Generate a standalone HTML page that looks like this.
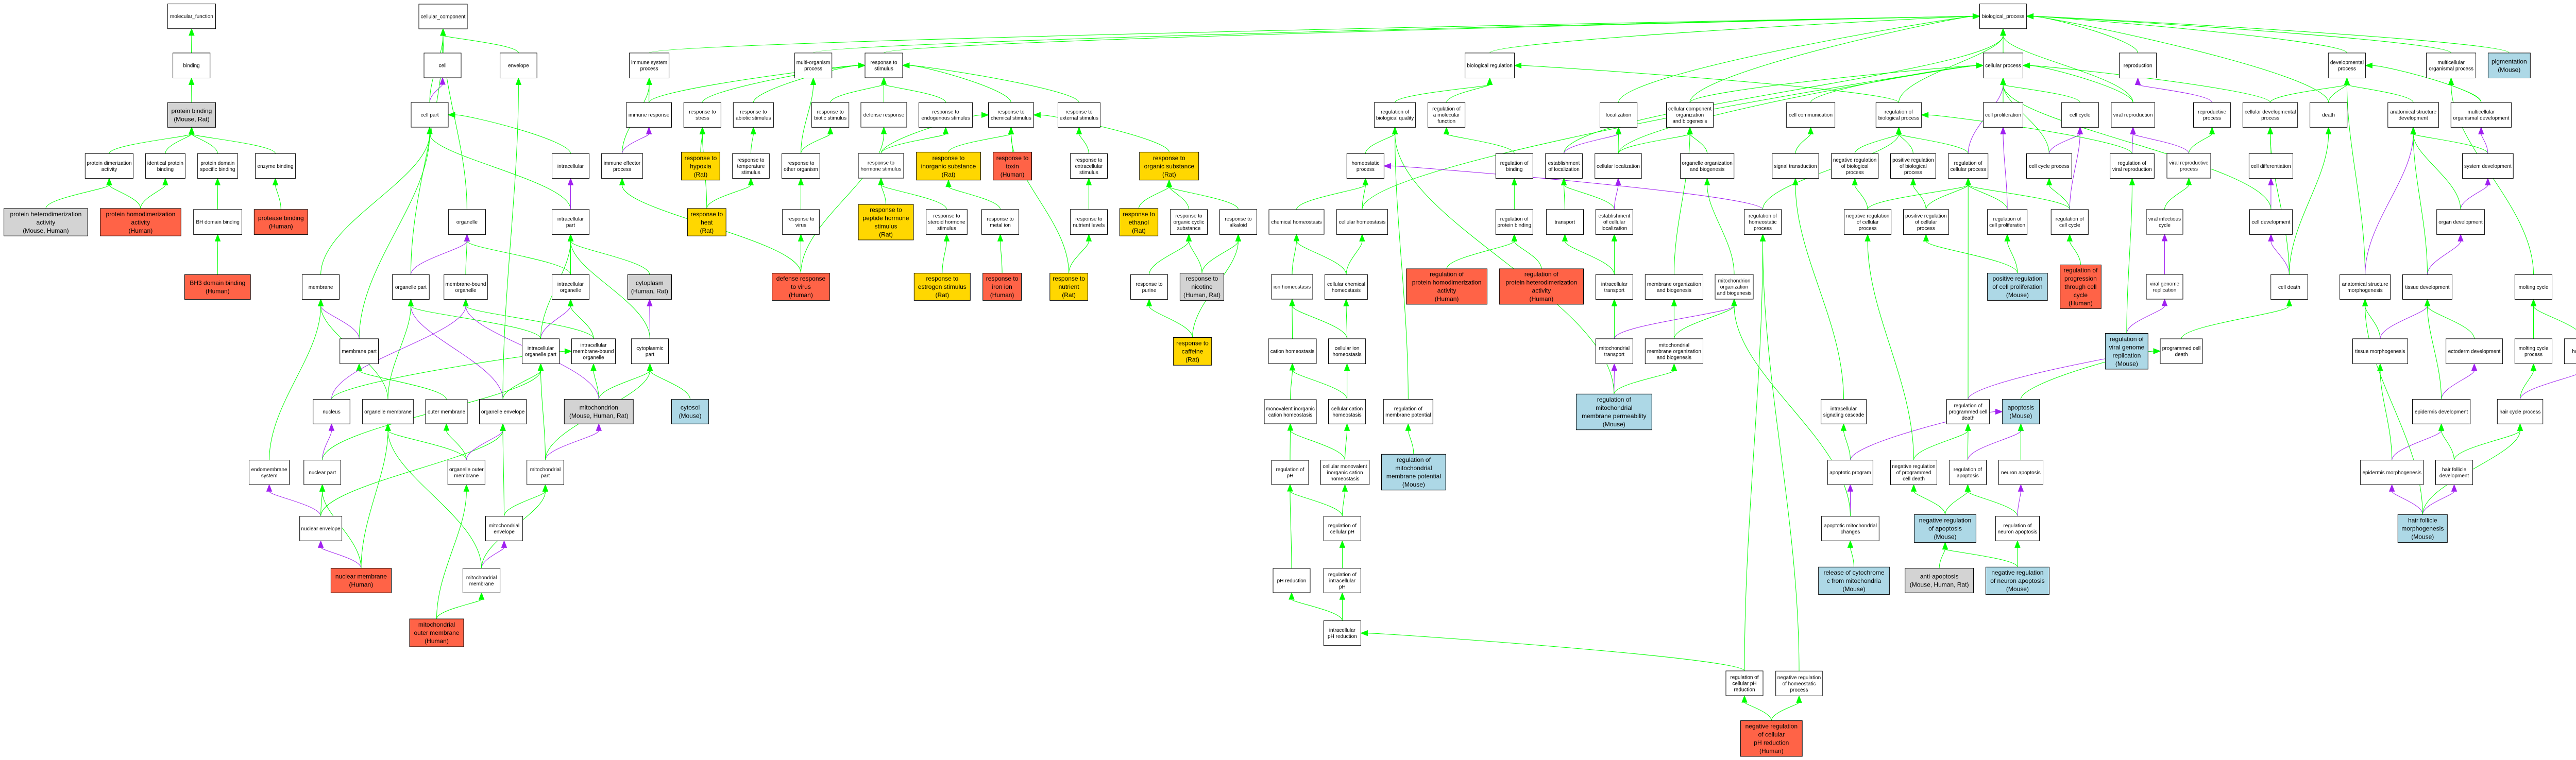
<!DOCTYPE html>
<html><head><meta charset="utf-8">
<style>
html,body{margin:0;padding:0;background:#fff;}
svg{display:block;}
text{font-family:"Liberation Sans",Arial,sans-serif;fill:#000;}
</style></head>
<body>
<svg id="g" xmlns="http://www.w3.org/2000/svg" width="5056" height="1476" viewBox="0 0 5056 1476">
<rect width="5056" height="1476" fill="#fff"/>
<g id="E"></g><g id="N"></g>
</svg>
<script>
const SX=1.8447,SY=2.1189;
const R='#FF6347',G='#FFD700',Y='#D3D3D3',B='#ADD8E6',W='#FFFFFF';
const nodes={};
function Z(id,ox,oy,x1,y1,x2,y2,lab,f){nodes[id]={x:ox+x1/SX,y:oy+y1/SY,w:(x2-x1)/SX,h:(y2-y1)/SY,lab:lab,f:f||W};}
function D(id,x1,y1,x2,y2,lab,f){nodes[id]={x:x1,y:y1,w:x2-x1,h:y2-y1,lab:lab,f:f||W};}
// zoom1 (0,0)
Z('mf',0,0,600,16,772,118,'molecular_function');
Z('bind',0,0,619,218,752,321,'binding');
Z('pb',0,0,600,422,772,524,'protein binding|(Mouse, Rat)',Y);
Z('pda',0,0,305,632,477,734,'protein dimerization|activity');
Z('ipb',0,0,521,632,663,734,'identical protein|binding');
Z('pdsb',0,0,707,632,851,734,'protein domain|specific binding');
Z('eb',0,0,914,632,1058,734,'enzyme binding');
Z('phda',0,0,14,858,314,971,'protein heterodimerization|activity|(Mouse, Human)',Y);
Z('phomo',0,0,359,858,648,971,'protein homodimerization|activity|(Human)',R);
Z('bhdb',0,0,693,862,866,965,'BH domain binding');
Z('protb',0,0,910,862,1102,965,'protease binding|(Human)',R);
Z('bh3',0,0,661,1130,897,1232,'BH3 domain binding|(Human)',R);
Z('memb',0,0,1082,1130,1215,1232,'membrane');
Z('membp',0,0,1217,1394,1355,1497,'membrane part');
Z('orgp',0,0,1405,1130,1537,1232,'organelle part');
D('cellp',798,199,870,247,'cell part');
D('cc',813,8,907,56,'cellular_component');
D('cell',823,103,895,151,'cell');
// zoom2
Z('nuc',0,736,1121,84,1253,185,'nucleus');
Z('orgm',0,736,1298,84,1480,185,'organelle membrane');
D('outm',826,776,907,823,'outer membrane');
Z('endo',0,736,892,334,1036,435,'endomembrane|system');
Z('nucp',0,736,1088,334,1220,435,'nuclear part');
Z('nenv',0,736,1073,565,1224,666,'nuclear envelope');
Z('nmem',0,736,1185,779,1401,880,'nuclear membrane|(Human)',R);
D('momem',795,1202,900,1256,'mitochondrial|outer membrane|(Human)',R);
// zoom3
const o3=840;
Z('env',o3,0,241,218,373,321,'envelope');
Z('isp',o3,0,704,218,846,321,'immune system|process');
Z('mop',o3,0,1296,218,1429,321,'multi-organism|process');
D('rstim',1679,103,1752,151,'response to|stimulus');
Z('ir',o3,0,693,422,855,524,'immune response');
Z('rstress',o3,0,899,422,1032,524,'response to|stress');
Z('rabio',o3,0,1076,422,1220,524,'response to|abiotic stimulus');
Z('rbio',o3,0,1357,422,1490,524,'response to|biotic stimulus');
D('defr',1671,199,1760,247,'defense response');
Z('intra',o3,0,427,632,560,734,'intracellular');
Z('iep',o3,0,604,632,752,734,'immune effector|process');
Z('rhyp',o3,0,890,626,1028,741,'response to|hypoxia|(Rat)',G);
Z('rtemp',o3,0,1073,632,1205,734,'response to|temperature|stimulus');
Z('roth',o3,0,1250,632,1386,734,'response to|other organism');
D('rhorm',1666,298,1754,346,'response to|hormone stimulus');
Z('org',o3,0,56,862,189,965,'organelle');
Z('intp',o3,0,427,862,560,965,'intracellular|part');
Z('rheat',o3,0,912,858,1050,971,'response to|heat|(Rat)',G);
Z('rvir',o3,0,1252,862,1384,965,'response to|virus');
D('rpep',1666,397,1773,466,'response to|peptide hormone|stimulus|(Rat)',G);
Z('mbo',o3,0,40,1130,196,1232,'membrane-bound|organelle');
Z('io',o3,0,427,1130,560,1232,'intracellular|organelle');
Z('cyto',o3,0,698,1130,855,1232,'cytoplasm|(Human, Rat)',Y);
Z('drv',o3,0,1215,1124,1421,1236,'defense response|to virus|(Human)',R);
Z('iop',o3,0,320,1394,453,1497,'intracellular|organelle part');
Z('imbo',o3,0,497,1394,654,1497,'intracellular|membrane-bound|organelle');
Z('cytp',o3,0,711,1394,844,1497,'cytoplasmic|part');
// zoom4
Z('orgenv',o3,736,167,84,335,185,'organelle envelope');
Z('mito',o3,736,471,84,718,185,'mitochondrion|(Mouse, Human, Rat)',Y);
Z('cytosol',o3,736,855,84,988,185,'cytosol|(Mouse)',B);
Z('oom',o3,736,54,334,187,435,'organelle outer|membrane');
Z('mitp',o3,736,337,334,469,435,'mitochondrial|part');
Z('menv',o3,736,189,565,322,666,'mitochondrial|envelope');
Z('mmem',o3,736,108,779,241,880,'mitochondrial|membrane');
// zoom5
const o5=1680;
Z('rendo',o5,0,191,422,383,524,'response to|endogenous stimulus');
Z('rchem',o5,0,440,422,602,524,'response to|chemical stimulus');
Z('rext',o5,0,689,422,840,524,'response to|external stimulus');
Z('rinorg',o5,0,182,626,412,741,'response to|inorganic substance|(Rat)',G);
Z('rtox',o5,0,457,626,595,741,'response to|toxin|(Human)',R);
Z('rextra',o5,0,733,632,866,734,'response to|extracellular|stimulus');
Z('rorg',o5,0,981,626,1193,741,'response to|organic substance|(Rat)',G);
Z('rster',o5,0,217,862,364,965,'response to|steroid hormone|stimulus');
Z('rmetal',o5,0,416,862,549,965,'response to|metal ion');
Z('rnutl',o5,0,733,862,866,965,'response to|nutrient levels');
Z('reth',o5,0,910,858,1047,971,'response to|ethanol|(Rat)',G);
Z('rocs',o5,0,1091,862,1224,965,'response to|organic cyclic|substance');
Z('ralk',o5,0,1268,862,1401,965,'response to|alkaloid');
D('chemh',2463,407,2570,455,'chemical homeostasis');
Z('restr',o5,0,174,1124,375,1236,'response to|estrogen stimulus|(Rat)',G);
Z('riron',o5,0,420,1124,558,1236,'response to|iron ion|(Human)',R);
Z('rnut',o5,0,660,1124,796,1236,'response to|nutrient|(Rat)',G);
Z('rpur',o5,0,949,1130,1082,1232,'response to|purine');
Z('rnic',o5,0,1126,1124,1283,1236,'response to|nicotine|(Human, Rat)',Y);
D('ionh',2468,533,2548,581,'ion homeostasis');
Z('rcaf',o5,0,1102,1389,1239,1503,'response to|caffeine|(Rat)',G);
D('cath',2462,658,2555,706,'cation homeostasis');
D('monoh',2454,776,2555,823,'monovalent inorganic|cation homeostasis');
D('regph',2468,894,2540,941,'regulation of|pH');
D('phred',2471,1104,2543,1151,'pH reduction');
// zoom7
const o7=2520;
Z('breg',o7,0,597,218,774,321,'biological regulation');
Z('rbq',o7,0,272,422,420,524,'regulation of|biological quality');
Z('rmf',o7,0,464,422,597,524,'regulation of|a molecular|function');
Z('loc',o7,0,1080,422,1213,524,'localization');
Z('ccob',o7,0,1318,422,1486,524,'cellular component|organization|and biogenesis');
Z('hp',o7,0,174,632,307,734,'homeostatic|process');
Z('rb',o7,0,707,632,840,734,'regulation of|binding');
Z('eloc',o7,0,885,632,1017,734,'establishment|of localization');
Z('cloc',o7,0,1062,632,1229,734,'cellular localization');
Z('oob',o7,0,1368,632,1560,734,'organelle organization|and biogenesis');
Z('ch',o7,0,137,862,320,965,'cellular homeostasis');
Z('rpb',o7,0,707,862,840,965,'regulation of|protein binding');
Z('trans',o7,0,888,862,1021,965,'transport');
Z('ecl',o7,0,1065,862,1198,965,'establishment|of cellular|localization');
Z('cch',o7,0,95,1130,248,1232,'cellular chemical|homeostasis');
Z('rphomo',o7,0,387,1106,676,1252,'regulation of|protein homodimerization|activity|(Human)',R);
Z('rphet',o7,0,720,1106,1021,1252,'regulation of|protein heterodimerization|activity|(Human)',R);
Z('itr',o7,0,1065,1130,1198,1232,'intracellular|transport');
Z('mob',o7,0,1242,1130,1449,1232,'membrane organization|and biogenesis');
D('mitoob',3329,533,3403,581,'mitochondrion|organization|and biogenesis');
Z('cih',o7,0,108,1394,241,1497,'cellular ion|homeostasis');
Z('mtr',o7,0,1065,1394,1198,1497,'mitochondrial|transport');
Z('mmob',o7,0,1242,1394,1449,1497,'mitochondrial|membrane organization|and biogenesis');
// zoom8
Z('ccath',o7,736,108,84,241,185,'cellular cation|homeostasis');
Z('rmp',o7,736,305,84,482,185,'regulation of|membrane potential');
Z('rmmp',o7,736,995,62,1266,209,'regulation of|mitochondrial|membrane permeability|(Mouse)',B);
Z('cmono',o7,736,80,334,254,435,'cellular monovalent|inorganic cation|homeostasis');
Z('rmmpot',o7,736,298,310,528,457,'regulation of|mitochondrial|membrane potential|(Mouse)',B);
Z('rcph',o7,736,91,565,224,666,'regulation of|cellular pH');
Z('riph',o7,736,91,779,224,880,'regulation of|intracellular|pH');
Z('iphr',o7,736,91,995,224,1097,'intracellular|pH reduction');
D('rcphr',3350,1303,3422,1351,'regulation of|cellular pH|reduction');
// zoom9
const o9=3360;
Z('bp',o9,0,890,16,1058,118,'biological_process');
Z('cp',o9,0,903,218,1045,321,'cellular process');
Z('repro',o9,0,1390,218,1523,321,'reproduction');
Z('ccom',o9,0,198,422,372,524,'cell communication');
Z('rbp',o9,0,519,422,682,524,'regulation of|biological process');
Z('cprol',o9,0,903,422,1045,524,'cell proliferation');
Z('ccyc',o9,0,1183,422,1316,524,'cell cycle');
Z('vrep',o9,0,1361,422,1517,524,'viral reproduction');
Z('st',o9,0,147,632,314,734,'signal transduction');
Z('nrbp',o9,0,359,632,527,734,'negative regulation|of biological|process');
Z('prbp',o9,0,571,632,733,734,'positive regulation|of biological|process');
Z('rcp',o9,0,778,632,920,734,'regulation of|cellular process');
Z('ccp',o9,0,1058,632,1220,734,'cell cycle process');
Z('rvr',o9,0,1357,632,1515,734,'regulation of|viral reproduction');
D('vrp',4206,298,4291,346,'viral reproductive|process');
Z('rhp',o9,0,47,862,180,965,'regulation of|homeostatic|process');
Z('nrcp',o9,0,405,862,573,965,'negative regulation|of cellular|process');
Z('prcp',o9,0,617,862,779,965,'positive regulation|of cellular|process');
Z('rcpr',o9,0,918,862,1060,965,'regulation of|cell proliferation');
Z('rcc',o9,0,1146,862,1279,965,'regulation of|cell cycle');
D('vic',4166,407,4237,455,'viral infectious|cycle');
Z('prcpr',o9,0,918,1124,1133,1236,'positive regulation|of cell proliferation|(Mouse)',B);
Z('rpcc',o9,0,1178,1090,1325,1270,'regulation of|progression|through cell|cycle|(Human)',R);
D('vgr',4166,533,4237,581,'viral genome|replication');
Z('rvgr',o9,0,1340,1372,1493,1519,'regulation of|viral genome|replication|(Mouse)',B);
D('pcd',4193,658,4275,706,'programmed cell|death');
// zoom10
Z('isc',o9,736,322,84,484,185,'intracellular|signaling cascade');
Z('rpcd',o9,736,772,84,925,185,'regulation of|programmed cell|death');
Z('apop',o9,736,971,84,1104,185,'apoptosis|(Mouse)',B);
Z('aprog',o9,736,346,334,508,435,'apoptotic program');
Z('nrpcd',o9,736,571,334,737,435,'negative regulation|of programmed|cell death');
Z('rapop',o9,736,781,334,914,435,'regulation of|apoptosis');
Z('napop',o9,736,958,334,1117,435,'neuron apoptosis');
Z('amc',o9,736,324,565,530,666,'apoptotic mitochondrial|changes');
Z('nrapop',o9,736,656,558,877,673,'negative regulation|of apoptosis|(Mouse)',B);
Z('rnapop',o9,736,947,565,1104,666,'regulation of|neuron apoptosis');
Z('rcyt',o9,736,313,774,567,887,'release of cytochrome|c from mitochondria|(Mouse)',B);
Z('anti',o9,736,623,779,868,880,'anti-apoptosis|(Mouse, Human, Rat)',Y);
Z('nrnapop',o9,736,912,774,1139,887,'negative regulation|of neuron apoptosis|(Mouse)',B);
Z('nrhp',o9,736,160,1202,327,1304,'negative regulation|of homeostatic|process');
Z('nrcphr',o9,736,34,1406,255,1553,'negative regulation|of cellular|pH reduction|(Human)',R);
// zoom11
const o11=4206;
Z('devp',o11,0,578,218,711,321,'developmental|process');
Z('mcop',o11,0,929,218,1106,321,'multicellular|organismal process');
Z('pig',o11,0,1150,218,1301,321,'pigmentation|(Mouse)',B);
Z('rp',o11,0,95,422,228,524,'reproductive|process');
Z('cdp',o11,0,272,422,468,524,'cellular developmental|process');
Z('death',o11,0,512,422,645,524,'death');
Z('asd',o11,0,791,422,973,524,'anatomical structure|development');
Z('mcod',o11,0,1017,422,1233,524,'multicellular|organismal development');
Z('cdiff',o11,0,294,632,451,734,'cell differentiation');
Z('sysd',o11,0,1058,632,1240,734,'system development');
Z('cdev',o11,0,296,862,449,965,'cell development');
Z('orgd',o11,0,966,862,1137,965,'organ development');
Z('cdeath',o11,0,372,1130,504,1232,'cell death');
Z('asm',o11,0,619,1130,800,1232,'anatomical structure|morphogenesis');
Z('tisd',o11,0,844,1130,1021,1232,'tissue development');
Z('molt',o11,0,1246,1130,1379,1232,'molting cycle');
Z('tism',o11,0,665,1394,862,1497,'tissue morphogenesis');
Z('ectd',o11,0,999,1394,1202,1497,'ectoderm  development');
Z('mcp',o11,0,1246,1394,1379,1497,'molting cycle|process');
Z('hc',o11,0,1423,1394,1556,1497,'hair cycle');
// zoom12
Z('epd',o11,736,879,84,1086,185,'epidermis development');
Z('hcp',o11,736,1183,84,1346,185,'hair cycle process');
Z('epm',o11,736,693,334,918,435,'epidermis morphogenesis');
Z('hfd',o11,736,962,334,1095,435,'hair follicle|development');
Z('hfm',o11,736,827,558,1004,673,'hair follicle|morphogenesis|(Mouse)',B);

const g='g',p='p';
const edges=[
['bind','mf',g],['pb','bind',g],['pda','pb',g],['ipb','pb',g],['pdsb','pb',g],['eb','pb',g],
['phda','pda',g],['phomo','pda',g],['phomo','ipb',g],['bhdb','pdsb',g],['protb','eb',g],['bh3','bhdb',g],
['cell','cc',g],['cellp','cell',p],['org','cc',g],['env','cc',g],['orgp','cc',g],['cellp','cc',g],
['memb','cellp',g],['intra','cellp',g],['intp','cellp',g],['membp','cellp',g],
['membp','memb',p],['endo','memb',g],['orgm','memb',g],['orgm','orgp',g],['outm','membp',g],
['nucp','nuc',p],['nucp','iop',g],['nenv','endo',p],['nenv','nucp',g],['nmem','nucp',g],['nmem','nenv',p],['nmem','orgm',g],
['mmem','orgm',g],['oom','orgm',g],['nenv','orgenv',g],['oom','outm',g],['oom','orgenv',p],['menv','orgenv',g],
['orgenv','iop',g],['orgenv','orgp',p],['orgenv','env',g],['mitp','mito',p],['mito','cytp',g],['mito','imbo',g],['mito','mbo',p],['nuc','mbo',p],
['mitp','iop',g],['mitp','cytp',g],['menv','mitp',g],['mmem','menv',p],['mmem','mitp',g],
['momem','mmem',g],['momem','oom',g],['cytosol','cytp',g],['cytp','cyto',p],['cytp','intp',g],
['intp','intra',p],['cyto','intp',g],['io','org',g],['io','intp',g],['mbo','org',g],['orgp','org',p],
['iop','io',p],['iop','intp',g],['iop','orgp',g],['imbo','io',g],['imbo','mbo',g],['nuc','imbo',g],
['breg','bp',g],['cp','bp',g],['rstim','bp',g],['isp','bp',g],['mop','bp',g],['loc','bp',g],['ccob','bp',g],
['repro','bp',g],['devp','bp',g],['mcop','bp',g],['pig','bp',g],['vrep','bp',g],['death','bp',g],['eloc','bp',g],['rbp','bp',g],
['ccom','cp',g],['rcp','cp',p],['cprol','cp',g],['ccyc','cp',g],['ccp','cp',g],['ch','cp',g],['vrep','cp',g],['cdp','cp',g],['ccob','cp',g],['cloc','cp',g],
['ir','isp',g],['iep','isp',g],['iep','ir',p],['roth','mop',g],
['rstress','rstim',g],['rabio','rstim',g],['rbio','rstim',g],['defr','rstim',g],['rendo','rstim',g],['rchem','rstim',g],['rext','rstim',g],['ir','rstim',g],
['rhyp','rstress',g],['rheat','rstress',g],['rheat','rtemp',g],['rtemp','rabio',g],['roth','rbio',g],['rvir','roth',g],
['drv','rvir',g],['drv','defr',g],['drv','iep',g],
['rhorm','rendo',g],['rhorm','rchem',g],['rpep','rhorm',g],['rster','rhorm',g],['rinorg','rchem',g],['rtox','rchem',g],
['rnut','rchem',g],['rnut','rnutl',g],['rextra','rext',g],['rnutl','rextra',g],['rorg','rchem',g],['reth','rorg',g],['rocs','rorg',g],['ralk','rorg',g],
['restr','rster',g],['rmetal','rinorg',g],['riron','rmetal',g],['rpur','rocs',g],['rnic','rocs',g],['rnic','ralk',g],['rcaf','rpur',g],['rcaf','ralk',g],
['rbq','breg',g],['rmf','breg',g],['rbp','breg',g],['hp','rbq',g],['rmp','rbq',g],['rb','rmf',g],
['chemh','hp',g],['ch','hp',g],['rhp','hp',p],['rpb','rb',g],['rphomo','rpb',g],['rphet','rpb',g],
['eloc','loc',p],['cloc','loc',g],['cloc','ccob',g],['mob','ccob',g],['oob','ccob',g],['trans','eloc',g],['ecl','eloc',g],['ecl','cloc',p],
['mitoob','oob',g],['itr','ecl',g],['itr','trans',g],['cch','chemh',g],['ionh','chemh',g],['cch','ch',g],['mtr','itr',g],['mmob','mob',g],
['mtr','mitoob',p],['mmob','mitoob',g],['cih','ionh',g],['cath','ionh',g],['cih','cch',g],['monoh','cath',g],['ccath','cath',g],['ccath','cih',g],
['rmmpot','rmp',g],['regph','monoh',g],['cmono','monoh',g],['cmono','ccath',g],['phred','regph',g],['rcph','regph',g],['rcph','cmono',g],
['riph','rcph',g],['iphr','phred',g],['iphr','riph',g],['rcphr','iphr',g],['rcphr','rhp',g],['nrcphr','rcphr',g],['nrcphr','nrhp',g],['nrhp','rhp',g],
['rhp','rbp',g],['rmmp','mtr',p],['rmmp','mmob',g],['rmmp','rbq',g],
['st','ccom',g],['isc','st',g],['aprog','isc',g],['aprog','apop',p],['amc','aprog',p],['amc','mitoob',g],['rcyt','amc',g],
['nrbp','rbp',g],['prbp','rbp',g],['rcp','rbp',g],['nrcp','nrbp',g],['nrcp','rcp',g],['prcp','prbp',g],['prcp','rcp',g],
['rcpr','rcp',g],['rcpr','cprol',p],['rcc','rcp',g],['rcc','ccp',g],['rcc','ccyc',p],['prcpr','rcpr',g],['prcpr','prcp',g],['rpcc','rcc',g],
['rpcd','rcp',g],['ccp','ccyc',p],['rvr','vrep',p],['rvr','rbp',g],['vrp','vrep',p],['vrp','rp',g],['vic','vrp',g],['vgr','vic',p],
['rvgr','vgr',p],['rvgr','rvr',g],['rp','repro',p],['pcd','cdeath',g],['rpcd','pcd',p],['apop','pcd',g],
['nrpcd','rpcd',g],['nrpcd','nrcp',g],['rapop','rpcd',g],['rapop','apop',p],['napop','apop',g],['nrapop','nrpcd',g],['nrapop','rapop',g],
['rnapop','rapop',g],['rnapop','napop',p],['anti','nrapop',g],['nrnapop','nrapop',g],['nrnapop','rnapop',g],
['cdp','devp',g],['death','devp',g],['asd','devp',g],['mcod','devp',g],['mcod','mcop',g],['cdiff','cdp',g],['sysd','asd',g],['sysd','mcod',p],
['cdev','cdiff',p],['cdev','cp',g],['orgd','sysd',p],['orgd','asd',g],['cdeath','cdev',p],['cdeath','cdp',g],['cdeath','death',g],
['asm','devp',g],['asm','asd',p],['tisd','asd',g],['tisd','orgd',p],['molt','mcop',g],['tism','asm',g],['tism','tisd',p],['ectd','tisd',g],
['mcp','molt',g],['hc','molt',g],['epd','ectd',p],['epd','tisd',g],['hcp','mcp',g],['hcp','hc',p],['epm','tism',g],['epm','epd',p],
['hfd','epd',g],['hfd','hcp',g],['hfm','epm',p],['hfm','hfd',p],['hfm','hcp',g],['hfm','asm',g]
];
const NS='http://www.w3.org/2000/svg';
const Eg=document.getElementById('E'),Ng=document.getElementById('N');
function el(t,a,par){const e=document.createElementNS(NS,t);for(const k in a)e.setAttribute(k,a[k]);par.appendChild(e);return e;}
edges.forEach(([c,pa,col])=>{
  const C=nodes[c],P=nodes[pa];if(!C||!P)return;
  const color=col==='p'?'#A020F0':'#00FF00';
  let sx=C.x+C.w/2,sy=C.y;
  let ex=P.x+P.w/2,ey=P.y+P.h;
  let dy=sy-ey;
  let side=false;
  if(dy<20||Math.abs(ex-sx)>4*Math.max(dy,1)){
    // attach to side of parent
    side=true;
    ex=(sx<P.x)?P.x:P.x+P.w; ey=P.y+P.h/2;
    if(sx>=P.x&&sx<=P.x+P.w){ex=sx;ey=P.y+P.h;side=false;}
    dy=sy-ey;
  }
  const k=Math.max(Math.abs(dy)*0.35,10);
  const c1x=sx,c1y=sy-k;
  const c2x=side?(ex+(sx<P.x?-40:40)):ex, c2y=side?ey:ey+k;
  // arrow
  let vx=ex-c2x,vy=ey-c2y;const L=Math.hypot(vx,vy)||1;vx/=L;vy/=L;
  const al=13,aw=5;
  const bx=ex-vx*al,by=ey-vy*al;
  el('path',{d:`M${sx.toFixed(1)},${sy.toFixed(1)} C${c1x.toFixed(1)},${c1y.toFixed(1)} ${c2x.toFixed(1)},${c2y.toFixed(1)} ${bx.toFixed(1)},${by.toFixed(1)}`,fill:'none',stroke:color,'stroke-width':1},Eg);
  el('polygon',{points:`${ex},${ey} ${bx-vy*aw},${by+vx*aw} ${bx+vy*aw},${by-vx*aw}`,fill:color,stroke:color,'stroke-width':1},Eg);
});
for(const id in nodes){
  const n=nodes[id];
  el('rect',{x:n.x.toFixed(1),y:n.y.toFixed(1),width:n.w.toFixed(1),height:n.h.toFixed(1),fill:n.f,stroke:'#000','stroke-width':1},Ng);
  const lines=n.lab.split('|');
  const col=n.f!==W;
  const fs=col?12:10,lh=col?16:12;
  const t=el('text',{'font-size':fs,'text-anchor':'middle'},Ng);
  const cx=n.x+n.w/2,cy=n.y+n.h/2;
  const y0=cy-(lines.length-1)*lh/2+fs*0.35;
  lines.forEach((s,i)=>{const ts=el('tspan',{x:cx.toFixed(1),y:(y0+i*lh).toFixed(1)},t);ts.textContent=s;});
}
</script>
</body></html>
